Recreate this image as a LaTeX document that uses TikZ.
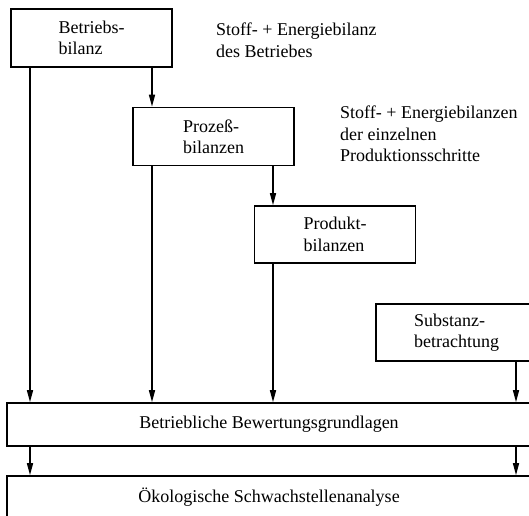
\documentclass[tikz,border=0pt]{standalone}
\usepackage{fontspec}
\setmainfont{Liberation Serif}
\usepackage{tikz}
\usetikzlibrary{positioning}
\usetikzlibrary{arrows.meta}
\tikzset{box/.style={ % Kasten mit Text
			draw,
			line width=1.6pt,
			inner sep=0pt,
			align=left,
			minimum width=161pt,
			minimum height=58pt},
		pfeil/.style={-{Triangle[length=12pt,width=6pt]}, line width=1.5pt},
		notiz/.style={align=left, inner sep=0pt, anchor=north west}}

\begin{document}
\begin{tikzpicture}[x=1pt, y=-1pt, font=\fontsize{18}{21.5}\selectfont]
			\clip (0,0) rectangle (529,515);
			\node[box] (betriebs) at (91.5,38) {Betriebs-\\bilanz};
			\node[box] (prozess) at (213.5,136.5) {Prozeß-\\bilanzen};
			\node[box, minimum height=57pt] (produkt) at (335,234.5) {Produkt-\\bilanzen};
			\node[box, minimum height=57pt] (substanz) at (456.5,332.5) {Substanz-\\betrachtung};
			\node[box, minimum width=524pt, minimum height=43pt] (bewertung) at (269,424.5) {Betriebliche Bewertungsgrundlagen};
			\node[box, minimum width=524pt, minimum height=43pt] (oekologie) at (269,497.5) {Ökologische Schwachstellenanalyse};
			
			\node[notiz] (betriebsnotiz) at (216,23) {Stoff- + Energiebilanz\\des Betriebes};
			\node[notiz] (prozessnotiz) at (340,106) {Stoff- + Energiebilanzen\\der einzelnen\\Produktionsschritte};
			
			\coordinate (s1) at (30,0);
			\coordinate (s2) at (152,0);
			\coordinate (s3) at (273,0);
			\coordinate (s4) at (516,0);
			
			\draw[pfeil] (betriebs.south -| s1) -- (bewertung.north -| s1);
			\draw[pfeil] (betriebs.south -| s2) -- (prozess.north -| s2);
			\draw[pfeil] (prozess.south -| s2) -- (bewertung.north -| s2);
			\draw[pfeil] (prozess.south -| s3) -- (produkt.north -| s3);
			\draw[pfeil] (produkt.south -| s3) -- (bewertung.north -| s3);
			\draw[pfeil] (substanz.south -| s4) -- (bewertung.north -| s4);
			\draw[pfeil] (bewertung.south -| s1) -- (oekologie.north -| s1);
			\draw[pfeil] (bewertung.south -| s4) -- (oekologie.north -| s4);
		\end{tikzpicture}
\end{document}
